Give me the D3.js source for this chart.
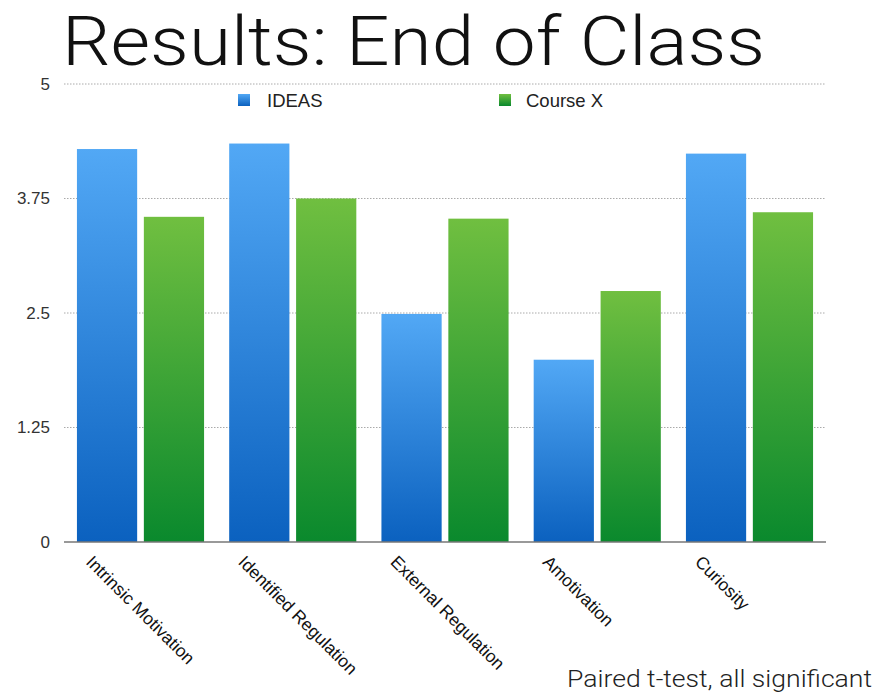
<!DOCTYPE html>
<html><head><meta charset="utf-8">
<script src="https://cdn.jsdelivr.net/npm/d3@7"></script>
<style>body{margin:0;background:#fff}svg{display:block}</style>
</head><body>
<script>
const categories = ["Intrinsic Motivation","Identified Regulation","External Regulation","Amotivation","Curiosity"];
const seriesNames = ["IDEAS","Course X"];
const ideas = [4.29, 4.35, 2.49, 1.99, 4.24];
const courseX = [3.55, 3.75, 3.53, 2.74, 3.60];
const yTicks = [0, 1.25, 2.5, 3.75, 5];
const yTickLabels = ["0","1.25","2.5","3.75","5"];
const title = "Results: End of Class";
const note = "Paired t-test, all significant";

const W = 876, H = 693;
const svg = d3.select("body").append("svg").attr("width", W).attr("height", H);
const font = "'Helvetica Neue', Helvetica, 'Liberation Sans', Arial, sans-serif";
const light = "'Helvetica Neue', Roboto, 'Liberation Sans', sans-serif";

const defs = svg.append("defs");
const gb = defs.append("linearGradient").attr("id","gBlue").attr("x1",0).attr("y1",0).attr("x2",0).attr("y2",1);
gb.append("stop").attr("offset","0%").attr("stop-color","#52a8f5");
gb.append("stop").attr("offset","100%").attr("stop-color","#0b61bf");
const gg = defs.append("linearGradient").attr("id","gGreen").attr("x1",0).attr("y1",0).attr("x2",0).attr("y2",1);
gg.append("stop").attr("offset","0%").attr("stop-color","#70bf40");
gg.append("stop").attr("offset","100%").attr("stop-color","#0a892d");

const x0 = d3.scaleBand().domain(categories).range([64, 826]).paddingInner(0.165).paddingOuter(0.085);
const x1 = d3.scaleBand().domain(seriesNames).range([0, x0.bandwidth()]).paddingInner(0.1);
const y = d3.scaleLinear().domain([0,5]).range([542, 84]);

// title
svg.append("text").attr("x", 62).attr("y", 65).text(title)
  .attr("font-family", light).attr("font-weight", 300).attr("font-size", 68)
  .attr("fill", "#111").attr("textLength", 703).attr("lengthAdjust","spacingAndGlyphs");

// gridlines
svg.append("g").selectAll("line").data(yTicks.filter(d => d > 0)).join("line")
  .attr("x1", 64).attr("x2", 826).attr("y1", d => y(d)).attr("y2", d => y(d))
  .attr("stroke", "#aaa").attr("stroke-width", 1).attr("stroke-dasharray", "1.5,1.5");

// y tick labels
svg.append("g").selectAll("text").data(yTicks).join("text")
  .attr("x", 50).attr("y", d => y(d)).attr("dy", "0.35em").attr("text-anchor", "end")
  .text((d, i) => yTickLabels[i])
  .attr("font-family", font).attr("font-size", 17).attr("fill", "#333");

// bars
const data = categories.map((c, i) => ({c, vals: [ideas[i], courseX[i]]}));
const grp = svg.append("g").selectAll("g").data(data).join("g")
  .attr("transform", d => `translate(${x0(d.c)},0)`);
grp.selectAll("rect").data(d => d.vals.map((v, j) => ({s: seriesNames[j], v, j}))).join("rect")
  .attr("x", d => x1(d.s)).attr("width", x1.bandwidth())
  .attr("y", d => y(d.v)).attr("height", d => y(0) - y(d.v))
  .attr("fill", d => d.j === 0 ? "url(#gBlue)" : "url(#gGreen)");

// axis line
svg.append("line").attr("x1", 64).attr("x2", 826).attr("y1", y(0)).attr("y2", y(0))
  .attr("stroke", "#777").attr("stroke-width", 1.5);

// x labels
svg.append("g").selectAll("text").data(categories).join("text")
  .attr("transform", d => `translate(${x0(d) + 8},${y(0) + 21}) rotate(45)`)
  .text(d => d).attr("font-family", font).attr("font-size", 17.5).attr("fill", "#111");

// legend
const leg = [{name: seriesNames[0], x: 238, fill: "url(#gBlue)", tx: 267}, {name: seriesNames[1], x: 499, fill: "url(#gGreen)", tx: 526}];
const lg = svg.append("g").selectAll("g").data(leg).join("g");
lg.append("rect").attr("x", d => d.x).attr("y", 94).attr("width", 12).attr("height", 12).attr("fill", d => d.fill);
lg.append("text").attr("x", d => d.tx).attr("y", 107).text(d => d.name)
  .attr("font-family", font).attr("font-size", 18.5).attr("fill", "#222");

// note
svg.append("text").attr("x", 567).attr("y", 687).text(note)
  .attr("font-family", light).attr("font-weight", 300).attr("font-size", 24).attr("fill", "#222")
  .attr("textLength", 305).attr("lengthAdjust","spacingAndGlyphs");
</script>
</body></html>
